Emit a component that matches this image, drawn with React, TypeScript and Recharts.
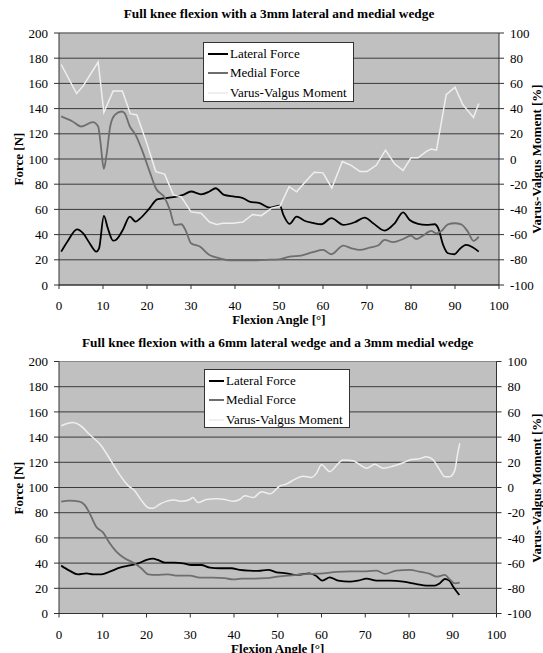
import React from 'react';
import { LineChart, Line, XAxis, YAxis, CartesianGrid, Legend, ReferenceLine } from 'recharts';

type Pt = [number, number];

const FONT = '"Liberation Serif", "Times New Roman", Times, serif';

// [flexion angle, value]
const topLateral: Pt[] = [
  [0.5, 26.5], [2, 35], [4.1, 44.2], [5.5, 41], [7, 33], [8.5, 26.5], [9.1, 29], [10.2, 54.8], [11.1, 45],
  [12.3, 35.2], [13, 36], [14.5, 43.7], [16.1, 54.3], [17.4, 50.3], [18.3, 52.4], [20.6, 61], [22.3, 68],
  [24.4, 69], [26.7, 70.2], [28.2, 71.5], [30, 74.2], [32.3, 72], [34.2, 74.2], [35.6, 76.8], [37.5, 71.5],
  [39.9, 70.2], [41.8, 69], [43.3, 66.2], [45.6, 65], [47.9, 61.4], [50.2, 63], [51, 55.6], [52.4, 48.5],
  [54, 54.3], [55.8, 51], [57.7, 49.3], [59.6, 48.2], [61.9, 53], [64.6, 47.7], [67.2, 49.8], [69.5, 53.5],
  [71.4, 49], [74, 43.2], [76.3, 49], [78.2, 57.7], [79.7, 51.6], [81.6, 48.5], [83.5, 47.7], [85.4, 48.2],
  [86.2, 45], [87.3, 31.8], [88.4, 25.2], [89.9, 24.4], [91, 28.3], [92.5, 31.8], [94, 30], [95.4, 26.5],
];
const topMedial: Pt[] = [
  [0.5, 133.8], [3, 130], [5.1, 125.8], [7.7, 129.3], [8.9, 125.8], [9.4, 114], [10.2, 92.2], [10.8, 103.3],
  [11.7, 127], [12.7, 135], [14.2, 137.7], [14.9, 136.4], [16.1, 125.8], [17.4, 119.2], [18.7, 108.6],
  [20.6, 90], [22, 76.8], [24, 69.4], [25.2, 59.6], [26.3, 47.7], [27.8, 48.2], [28.9, 42.4], [30, 33.1],
  [32, 30.5], [34.2, 23.8], [36.5, 21.2], [38.8, 19.5], [43.3, 19.5], [47, 20], [50, 20.4], [52.4, 22.5],
  [55, 23.3], [57.7, 26], [60, 27.8], [61.9, 24.4], [64.6, 31.3], [66.5, 29.1], [68.4, 27.8], [70.6, 29.7],
  [72.5, 31.3], [74, 35.8], [75.9, 34], [78.2, 36.5], [80, 39.2], [81.2, 36.5], [82.7, 39.2], [84.6, 42.9],
  [85.8, 41], [86.9, 42.9], [88.4, 48.2], [89.9, 49], [91.4, 48.2], [92.9, 42.4], [94.2, 35], [95.4, 38.4],
];
const topMoment: Pt[] = [
  [0.5, 75], [4, 52], [5.5, 58], [8.9, 77], [10.2, 37], [12.3, 54], [14.4, 54], [16.2, 36], [17.7, 35],
  [19.8, 14], [22, -10], [24, -12], [26, -28.5], [27.8, -30], [30, -42], [32.3, -43], [34.2, -50], [35.8, -52],
  [37.3, -51], [39.5, -51], [41.8, -50], [44, -44], [46, -45], [48.3, -39], [50.2, -37.5], [52.3, -22],
  [54, -26], [56, -18], [58, -10.5], [60, -11], [62, -23], [64.4, -2], [66.4, -5], [68.4, -10], [70, -10],
  [72.1, -5], [74.2, 7], [76.3, -4], [78.2, -9], [80, 1], [81.6, 1], [83.5, 6], [84.6, 8], [85.8, 7],
  [88, 51], [90, 57], [91.8, 43], [93, 38], [94.2, 33], [95.4, 44],
];

const bottomLateral: Pt[] = [
  [0.5, 38], [2.4, 34], [4.3, 31.1], [6.3, 31.9], [7.8, 31.1], [9.7, 31.1], [11.6, 33.2], [13.9, 36.4],
  [16.2, 38.2], [18.1, 39.8], [20, 42.5], [21.5, 43.5], [22.6, 42.5], [24.2, 40.4], [26.4, 40.4], [28.4, 39.8],
  [30.3, 38.5], [32.5, 38.5], [34.5, 36.4], [36.7, 35.9], [39.4, 35.9], [41.3, 34.6], [43.6, 34], [45.5, 33.8],
  [47.8, 34.6], [49.7, 32.7], [52, 31.9], [54.3, 30.6], [57.3, 31.9], [58.8, 29.8], [60.2, 26.1], [61.9, 28.7],
  [63.8, 26.1], [66.5, 25.3], [68.4, 26.1], [70.3, 27.6], [72.6, 26.1], [75.6, 26.1], [78.7, 25.3],
  [81.7, 23.4], [84, 22.1], [85.9, 22.1], [87, 23.9], [88.2, 27.4], [89.2, 26.1], [90.1, 21.3], [91.5, 14.7],
];
const bottomMedial: Pt[] = [
  [0.5, 88.8], [2.4, 89.6], [4.7, 88.8], [5.9, 86], [7, 79.6], [8.5, 68.9], [10.1, 64.2], [11.6, 55.7],
  [13.1, 49.1], [15, 43.8], [16.9, 40.4], [18.8, 35.9], [20.4, 31.1], [22.3, 30.6], [24.9, 31.1], [27.2, 30],
  [29.9, 30], [32.2, 28.5], [35.2, 28.5], [37.9, 28], [39.8, 27.1], [41.7, 27.6], [44.4, 27.6], [47.4, 28],
  [50.5, 29.5], [54.3, 30.6], [57.3, 31.4], [60.4, 31.9], [63.4, 33], [66.5, 33.5], [70.3, 33.5], [72.6, 34],
  [74.5, 31.4], [77.1, 34], [80.2, 34.6], [82.4, 33.2], [84.8, 31.4], [86.3, 29.3], [88.2, 30.6],
  [89.3, 27.1], [90.5, 23.9], [91.6, 24.5],
];
const bottomMoment: Pt[] = [
  [0.5, 49], [3.2, 51.5], [4.7, 49.6], [7, 42], [9.7, 33], [12, 20.5], [13.9, 10], [15.8, 1.5], [17.3, -2.5],
  [18.8, -10], [20.4, -16], [21.5, -16.5], [23, -13.3], [24.5, -11], [26.4, -10], [28, -11], [29.9, -9.5],
  [30.6, -8], [31.8, -12], [33.7, -9.5], [36, -9], [37.9, -9.5], [39.8, -11], [41.3, -9.5], [42.5, -6.5],
  [44.4, -8], [46.3, -3.3], [48.2, -5], [50.5, 1.2], [52, 2.8], [53.9, 6.5], [55.8, 9], [57.7, 8], [58.8, 11],
  [60, 18], [61.9, 12.6], [63.8, 19], [64.9, 21.8], [67.2, 21.3], [68.8, 18], [70.3, 15.3], [72.2, 18.4],
  [74.1, 15.3], [76.4, 17], [78.7, 19.7], [80.6, 22.3], [82.1, 22.6], [84, 24.5], [85.5, 22], [87, 14],
  [88.2, 8.6], [89.3, 8.6], [90.5, 14], [91, 24.5], [91.6, 35],
];

const xTicks = [0, 10, 20, 30, 40, 50, 60, 70, 80, 90, 100];
const forceTicks = [0, 20, 40, 60, 80, 100, 120, 140, 160, 180, 200];
const momentTicks = [-100, -80, -60, -40, -20, 0, 20, 40, 60, 80, 100];

const toRows = (pts: Pt[]) => pts.map(([angle, v]) => ({ angle, v }));

const AXIS = '#333';
const tickStyle = { fill: '#000', fontSize: 13, fontFamily: FONT, style: { fontFamily: FONT } };

interface ChartProps {
  top: number;
  height: number;
  title: string;
  lateral: Pt[];
  medial: Pt[];
  moment: Pt[];
  momentType: 'linear' | 'monotone';
  plotTop: number;
  plotBottom: number;
  plotRight: number;
  legend: { left: number; top: number; width: number; height: number };
  iconWidth: number;
}

const LegendBox = ({ payload, iconWidth }: any) => (
  <div style={{ background: '#fff', border: '1px solid #333', height: '100%', boxSizing: 'border-box', paddingTop: 1 }}>
    {(payload || []).map((p: any) => (
      <div key={p.value} style={{ display: 'flex', alignItems: 'center', height: 19.5, fontFamily: FONT, fontSize: 13, color: '#000', whiteSpace: 'nowrap' }}>
        <span style={{ display: 'inline-block', width: iconWidth, height: 2, background: p.color, marginLeft: 4, marginRight: 2 }} />
        {p.value}
      </div>
    ))}
  </div>
);

const KneeChart = (c: ChartProps) => {
  const plotLeft = 59;
  const plotH = c.plotBottom - c.plotTop;
  const plotCx = (plotLeft + c.plotRight) / 2;
  const label: React.CSSProperties = {
    position: 'absolute', fontFamily: FONT, fontWeight: 'bold', fontSize: 13, color: '#000', whiteSpace: 'nowrap',
  };
  return (
    <div style={{ position: 'absolute', left: 0, top: c.top, width: 543, height: c.height, fontFamily: FONT }}>
      <LineChart
        width={543}
        height={c.height}
        margin={{ top: c.plotTop, right: 0, bottom: 0, left: 0 }}
        style={{ fontFamily: FONT }}
      >
        <CartesianGrid vertical={false} horizontal stroke="#3a3a3a" fill="#c0c0c0" fillOpacity={1} yAxisId="force" />
        <XAxis
          type="number"
          dataKey="angle"
          domain={[0, 100]}
          ticks={xTicks}
          height={c.height - c.plotBottom}
          stroke={AXIS}
          tickSize={4}
          tickMargin={12}
          tick={tickStyle}
          allowDataOverflow
        />
        <YAxis
          yAxisId="force"
          domain={[0, 200]}
          ticks={forceTicks}
          width={plotLeft}
          stroke={AXIS}
          tickSize={5}
          tickMargin={6}
          tick={tickStyle}
          interval={0}
        />
        <YAxis
          yAxisId="moment"
          orientation="right"
          domain={[-100, 100]}
          ticks={momentTicks}
          width={543 - c.plotRight}
          stroke={AXIS}
          tickSize={5}
          tickMargin={6}
          tick={tickStyle}
          interval={0}
        />
        <ReferenceLine yAxisId="force" y={200} stroke="#8a8a8a" />
        <Legend
          layout="vertical"
          verticalAlign="middle"
          align="center"
          wrapperStyle={{ ...c.legend }}
          content={<LegendBox iconWidth={c.iconWidth} />}
        />
        <Line yAxisId="force" data={toRows(c.lateral)} dataKey="v" name="Lateral Force" type="monotone"
          stroke="#000" strokeWidth={1.8} dot={false} isAnimationActive={false} />
        <Line yAxisId="force" data={toRows(c.medial)} dataKey="v" name="Medial Force" type="monotone"
          stroke="#6e6e6e" strokeWidth={1.8} dot={false} isAnimationActive={false} />
        <Line yAxisId="moment" data={toRows(c.moment)} dataKey="v" name="Varus-Valgus Moment" type={c.momentType}
          stroke="#efefef" strokeWidth={1.5} dot={false} isAnimationActive={false} />
      </LineChart>
      <div style={{ ...label, fontSize: 13.3, left: 0, width: 2 * plotCx, textAlign: 'center', top: c.plotTop - 27 }}>{c.title}</div>
      <div style={{ ...label, left: 0, width: 2 * plotCx, textAlign: 'center', top: c.plotBottom + 27 }}>Flexion Angle [°]</div>
      <div style={{ ...label, left: 19, top: c.plotTop + plotH / 2, transform: 'translate(-50%, -50%) rotate(-90deg)' }}>Force [N]</div>
      <div style={{ ...label, left: 537, top: c.plotTop + plotH / 2, transform: 'translate(-50%, -50%) rotate(-90deg)' }}>Varus-Valgus Moment [%]</div>
    </div>
  );
};

export default function App() {
  return (
    <div style={{ position: 'absolute', left: 0, top: 0, width: 543, height: 653, background: '#fff', overflow: 'hidden', fontFamily: FONT }}>
      <KneeChart
        top={0}
        height={330}
        title="Full knee flexion with a 3mm lateral and medial wedge"
        lateral={topLateral}
        medial={topMedial}
        moment={topMoment}
        momentType="linear"
        plotTop={33}
        plotBottom={285}
        plotRight={499}
        legend={{ left: 203, top: 42, width: 151, height: 60 }}
        iconWidth={20}
      />
      <KneeChart
        top={330}
        height={323}
        title="Full knee flexion with a 6mm lateral wedge and a 3mm medial wedge"
        lateral={bottomLateral}
        medial={bottomMedial}
        moment={bottomMoment}
        momentType="monotone"
        plotTop={31.5}
        plotBottom={283.5}
        plotRight={496.5}
        legend={{ left: 204, top: 39, width: 146, height: 59 }}
        iconWidth={15}
      />
    </div>
  );
}
